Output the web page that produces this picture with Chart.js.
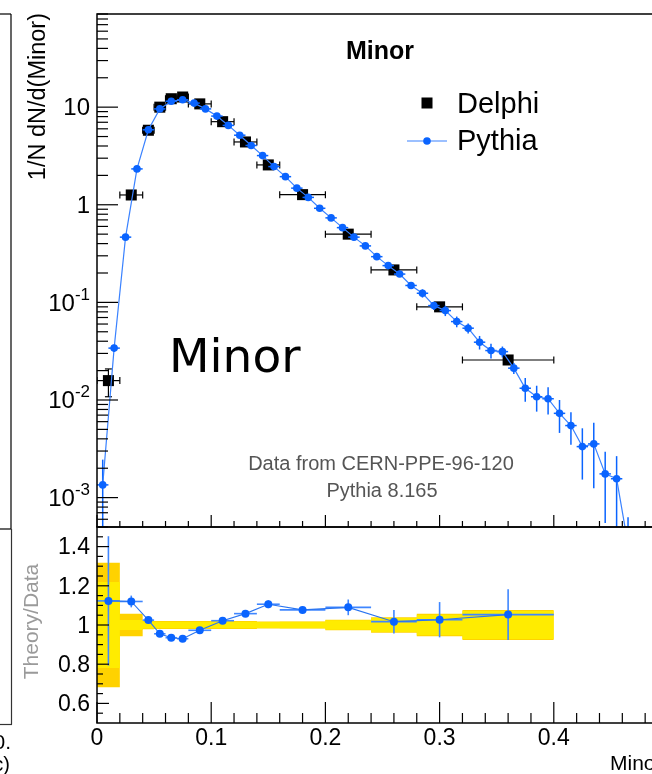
<!DOCTYPE html>
<html><head><meta charset="utf-8">
<script src="https://cdn.jsdelivr.net/npm/chart.js@4/dist/chart.umd.min.js"></script>
<style>
html,body{margin:0;padding:0;background:#fff;overflow:hidden;width:652px;height:774px;}
#wrap{position:relative;width:652px;height:774px;overflow:hidden;background:#fff;}
canvas{position:absolute;left:0;top:0;}
</style></head><body>
<div id="wrap"><canvas id="up" width="700" height="774"></canvas><canvas id="lo" width="700" height="774"></canvas></div>
<script>
// ---- Data ----
const delphiX  = [0.01,0.03,0.045,0.055,0.065,0.075,0.09,0.11,0.13,0.15,0.18,0.22,0.26,0.30,0.36];
const delphiLo = [0,0.02,0.04,0.05,0.06,0.07,0.08,0.10,0.12,0.14,0.16,0.20,0.24,0.28,0.32];
const delphiHi = [0.02,0.04,0.05,0.06,0.07,0.08,0.10,0.12,0.14,0.16,0.20,0.24,0.28,0.32,0.40];
const delphiY  = [0.0158,1.26,5.8,10.0,12.2,12.7,10.8,7.1,4.4,2.56,1.27,0.50,0.215,0.090,0.0257];
const delphiYErr = [0.005,0.06,0.2,0.3,0.3,0.3,0.3,0.2,0.1,0.06,0.03,0.012,0.006,0.003,0.0012];

const pythiaX = [0.005,0.015,0.025,0.035,0.045,0.055,0.065,0.075,0.085,0.095,0.105,0.115,0.125,0.135,0.145,0.155,0.165,0.175,0.185,0.195,0.205,0.215,0.225,0.235,0.245,0.255,0.265,0.275,0.285,0.295,0.305,0.315,0.325,0.335,0.345,0.355,0.365,0.375,0.385,0.395,0.405,0.415,0.425,0.435,0.445,0.455,0.465];
const pythiaY = [0.00135,0.034,0.466,2.33,5.86,9.6,11.5,11.9,11.0,9.6,8.1,6.5,5.16,4.05,3.19,2.46,1.94,1.48,1.19,0.92,0.734,0.583,0.466,0.379,0.294,0.238,0.195,0.149,0.124,0.0927,0.0824,0.0636,0.0544,0.0391,0.0321,0.0313,0.0212,0.0132,0.0108,0.0103,0.0073,0.00547,0.00333,0.00355,0.00175,0.00156,0.00033];
const pythiaErr = [0.0011,0.003,0.02,0.04,0.06,0.08,0.09,0.09,0.09,0.08,0.07,0.06,0.05,0.045,0.04,0.035,0.03,0.025,0.022,0.018,0.016,0.014,0.012,0.01,0.009,0.008,0.007,0.006,0.012,0.009,0.01,0.008,0.0065,0.0062,0.0055,0.004,0.0027,0.0036,0.0032,0.0032,0.0027,0.002,0.0018,0.0023,0.0012,0.0011,0.0003];

const ratioY   = [1.123,1.12,1.025,0.955,0.935,0.93,0.973,1.022,1.058,1.106,1.077,1.09,1.017,1.027,1.053];
const ratioErr = [0.33,0.03,0.015,0.01,0.01,0.01,0.01,0.01,0.01,0.02,0.01,0.04,0.06,0.09,0.13];
const bandOuter = [0.317,0.058,0.022,0.02,0.02,0.02,0.02,0.02,0.02,0.018,0.018,0.027,0.04,0.057,0.077];
const bandInner = [0.22,0.025,0.018,0.017,0.017,0.017,0.017,0.017,0.017,0.015,0.016,0.024,0.036,0.052,0.072];

const xTicks = [0,0.1,0.2,0.3,0.4,0.5];
const ratioTicks = [0.6,0.8,1.0,1.2,1.4];
const ratioTickLabels = ['0.6','0.8','1','1.2','1.4'];
const logTickExp = [-3,-2,-1,0,1];

// ---- Style ----
const BLUE = '#0a64ff';
const LINE_BLUE = '#3a82ff';
const FONT = '"Liberation Sans", Arial, Helvetica, sans-serif';
const YELLOW = '#ffec00';
const GOLD = '#ffd200';

function seg(ctx,x1,y1,x2,y2){ctx.beginPath();ctx.moveTo(x1,y1);ctx.lineTo(x2,y2);ctx.stroke();}
function clipArea(ctx,a){ctx.beginPath();ctx.rect(a.left,a.top,a.right-a.left,a.bottom-a.top);ctx.clip();}

// ---- Upper chart decorations ----
const upperPlugin = {
  id:'upperDecor',
  beforeDatasetDraw(chart,args){
    const {ctx, chartArea:a, scales:{x,y}} = chart;
    ctx.save(); clipArea(ctx,a);
    if (args.meta.label === 'Delphi') {
      ctx.strokeStyle='#000'; ctx.lineWidth=1.2;
      delphiX.forEach((xv,i)=>{
        const px=x.getPixelForValue(xv), py=y.getPixelForValue(delphiY[i]);
        const xl=x.getPixelForValue(delphiLo[i]), xh=x.getPixelForValue(delphiHi[i]);
        seg(ctx,xl,py,xh,py);
        seg(ctx,xl,py-3.5,xl,py+3.5); seg(ctx,xh,py-3.5,xh,py+3.5);
        const yt=y.getPixelForValue(delphiY[i]+delphiYErr[i]);
        const yb=y.getPixelForValue(Math.max(delphiY[i]-delphiYErr[i],1e-9));
        if (yb-yt>12){ seg(ctx,px,yt,px,yb); seg(ctx,px-3.5,yt,px+3.5,yt); seg(ctx,px-3.5,yb,px+3.5,yb); }
      });
    } else {
      ctx.strokeStyle=BLUE; ctx.lineWidth=1.5;
      pythiaX.forEach((xv,i)=>{
        const px=x.getPixelForValue(xv), py=y.getPixelForValue(pythiaY[i]);
        seg(ctx,x.getPixelForValue(xv-0.005),py,x.getPixelForValue(xv+0.005),py);
        const yt=y.getPixelForValue(pythiaY[i]+pythiaErr[i]);
        const lo=pythiaY[i]-pythiaErr[i];
        const yb= lo>0 ? y.getPixelForValue(lo) : a.bottom+5;
        seg(ctx,px,yt,px,yb);
      });
    }
    ctx.restore();
  },
  afterDatasetsDraw(chart){
    const {ctx, chartArea:a, scales:{x,y}} = chart;
    ctx.save();
    ctx.strokeStyle='#000'; ctx.lineWidth=1.5;
    ctx.strokeRect(a.left,a.top,a.right-a.left,a.bottom-a.top);
    ctx.lineWidth=1.2;
    for(let k=0;k<=25;k++){
      const v=k*0.02, px=x.getPixelForValue(v);
      const len = (k%5===0)?12:6;
      seg(ctx,px,a.bottom,px,a.bottom-len);
    }
    for(let d=-4; d<=1; d++){
      for(let k=1;k<=9;k++){
        const v=k*Math.pow(10,d);
        if(v<5e-4||v>90) continue;
        const py=y.getPixelForValue(v);
        seg(ctx,a.left,py,a.left+(k===1?21:11),py);
      }
    }
    ctx.fillStyle='#000'; ctx.textBaseline='middle';
    logTickExp.forEach(e=>{
      const py=y.getPixelForValue(Math.pow(10,e))+1.5;
      const xr=90;
      if(e===0){ ctx.font='24px '+FONT; ctx.textAlign='right'; ctx.fillText('1',xr,py); }
      else if(e===1){ ctx.font='24px '+FONT; ctx.textAlign='right'; ctx.fillText('10',xr,py); }
      else {
        ctx.font='17px '+FONT; const sup=String(e); const sw=ctx.measureText(sup).width;
        ctx.textAlign='right'; ctx.fillText(sup,xr,py-9);
        ctx.font='24px '+FONT; ctx.fillText('10',xr-sw,py);
      }
    });
    ctx.save(); ctx.translate(45,13); ctx.rotate(-Math.PI/2);
    ctx.font='23.5px '+FONT; ctx.textAlign='right'; ctx.textBaseline='alphabetic';
    ctx.fillText('1/N dN/d(Minor)',0,0); ctx.restore();
    ctx.font='bold 25px '+FONT; ctx.textAlign='center'; ctx.textBaseline='alphabetic';
    ctx.fillText('Minor',380,59);
    ctx.fillRect(427-5.5,103-5.5,11,11);
    ctx.font='29px '+FONT; ctx.textAlign='left';
    ctx.fillText('Delphi',457,113);
    ctx.fillText('Pythia',457,150);
    ctx.strokeStyle=LINE_BLUE; ctx.lineWidth=1.2; seg(ctx,407,141,447,141);
    ctx.fillStyle=BLUE; ctx.beginPath(); ctx.arc(427,141,3.8,0,Math.PI*2); ctx.fill();
    ctx.fillStyle='#000'; ctx.font='47px "DejaVu Sans", sans-serif'; ctx.textAlign='left';
    ctx.fillText('Minor',169,372);
    ctx.fillStyle='#555'; ctx.font='20px '+FONT; ctx.textAlign='center';
    ctx.fillText('Data from CERN-PPE-96-120',381,470);
    ctx.fillText('Pythia 8.165',382,497);
    ctx.strokeStyle='#000'; ctx.lineWidth=1.2;
    seg(ctx,0,14,11,14); seg(ctx,11,14,11,529); seg(ctx,0,529,11,529);
    ctx.restore();
  }
};

new Chart(document.getElementById('up'), {
  type:'line',
  data:{ datasets:[
    { label:'Pythia', data: pythiaX.map((xv,i)=>({x:xv,y:pythiaY[i]})), borderColor:LINE_BLUE, borderWidth:1.2,
      pointRadius:3.8, pointBackgroundColor:BLUE, pointBorderWidth:0, tension:0, order:0 },
    { label:'Delphi', data: delphiX.map((xv,i)=>({x:xv,y:delphiY[i]})), showLine:false, pointStyle:'rect',
      pointRadius:7.8, pointBackgroundColor:'#000', pointBorderWidth:0, order:1 }
  ]},
  options:{
    responsive:false, animation:false, events:[],
    layout:{padding:{left:97,top:14,right:32,bottom:247}},
    scales:{ x:{type:'linear',min:0,max:0.5,display:false}, y:{type:'logarithmic',min:5e-4,max:90,display:false} },
    plugins:{legend:{display:false},tooltip:{enabled:false}}
  },
  plugins:[upperPlugin]
});

// ---- Lower chart ----
function bandPts(half, sign){
  const pts=[];
  delphiLo.forEach((lo,i)=>{ pts.push({x:lo,y:1+sign*half[i]}); pts.push({x:delphiHi[i],y:1+sign*half[i]}); });
  return pts;
}

const lowerPlugin = {
  id:'lowerDecor',
  beforeDatasetDraw(chart,args){
    if(args.meta.label!=='ratio') return;
    const {ctx, chartArea:a, scales:{x,y}} = chart;
    ctx.save(); clipArea(ctx,a);
    ctx.strokeStyle='#3f86ff'; ctx.lineWidth=1.6;
    delphiX.forEach((xv,i)=>{
      const px=x.getPixelForValue(xv), py=y.getPixelForValue(ratioY[i]);
      seg(ctx,x.getPixelForValue(delphiLo[i]),py,x.getPixelForValue(delphiHi[i]),py);
      seg(ctx,px,y.getPixelForValue(ratioY[i]+ratioErr[i]),px,y.getPixelForValue(ratioY[i]-ratioErr[i]));
    });
    ctx.restore();
  },
  afterDatasetsDraw(chart){
    const {ctx, chartArea:a, scales:{x,y}} = chart;
    ctx.save();
    ctx.strokeStyle='#000'; ctx.lineWidth=1.5;
    ctx.strokeRect(a.left,a.top,a.right-a.left,a.bottom-a.top);
    ctx.lineWidth=1.2;
    for(let k=0;k<=25;k++){
      const px=x.getPixelForValue(k*0.02);
      seg(ctx,px,a.bottom,px,a.bottom-((k%5===0)?21:10));
    }
    for(let k=1;k<20;k++){
      const v=0.5+k*0.05, py=y.getPixelForValue(v);
      const major = (k%4===2);
      seg(ctx,a.left,py,a.left+(major?12:6),py);
    }
    ctx.fillStyle='#000'; ctx.font='23px '+FONT;
    ctx.textAlign='right'; ctx.textBaseline='middle';
    ratioTicks.forEach((v,i)=>ctx.fillText(ratioTickLabels[i],90,y.getPixelForValue(v)+1.5));
    ctx.textAlign='center';
    xTicks.forEach(v=>ctx.fillText(String(v),x.getPixelForValue(v),738.5));
    ctx.font='21px '+FONT; ctx.textAlign='left'; ctx.textBaseline='alphabetic';
    ctx.fillText('Minor',610,770);
    ctx.save(); ctx.translate(38,621.5); ctx.rotate(-Math.PI/2);
    ctx.fillStyle='#9a9a9a'; ctx.font='21px '+FONT; ctx.textAlign='center';
    ctx.fillText('Theory/Data',0,0); ctx.restore();
    ctx.strokeStyle='#333'; ctx.lineWidth=1.2;
    seg(ctx,11.5,529,11.5,724.5); seg(ctx,0,724.5,12,724.5);
    ctx.fillStyle='#000'; ctx.font='21px '+FONT; ctx.textAlign='right'; ctx.textBaseline='middle';
    ctx.fillText('0.',11,743);
    ctx.font='20px '+FONT; ctx.fillText('c)',10,765);
    ctx.restore();
  }
};

new Chart(document.getElementById('lo'), {
  type:'line',
  data:{ datasets:[
    { label:'ratio', data: delphiX.map((xv,i)=>({x:xv,y:ratioY[i]})), borderColor:'#2a74f0', borderWidth:1.1,
      pointRadius:4, pointBackgroundColor:BLUE, pointBorderWidth:0, tension:0, order:0 },
    { label:'innerHi', data: bandPts(bandInner,1), borderWidth:0, pointRadius:0, fill:'+1', backgroundColor:YELLOW, order:1 },
    { label:'innerLo', data: bandPts(bandInner,-1), borderWidth:0, pointRadius:0, fill:false, order:1 },
    { label:'outerHi', data: bandPts(bandOuter,1), borderWidth:0, pointRadius:0, fill:'+1', backgroundColor:GOLD, order:2 },
    { label:'outerLo', data: bandPts(bandOuter,-1), borderWidth:0, pointRadius:0, fill:false, order:2 }
  ]},
  options:{
    responsive:false, animation:false, events:[],
    layout:{padding:{left:97,top:527,right:32,bottom:51}},
    scales:{ x:{type:'linear',min:0,max:0.5,display:false}, y:{type:'linear',min:0.5,max:1.5,display:false} },
    plugins:{legend:{display:false},tooltip:{enabled:false}}
  },
  plugins:[lowerPlugin]
});
</script>
</body></html>
